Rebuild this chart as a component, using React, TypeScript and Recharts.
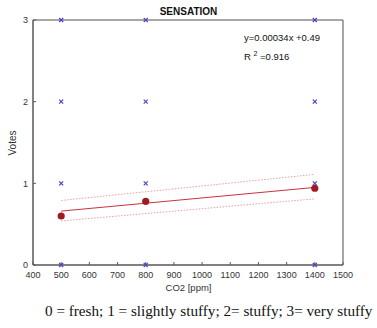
import React from 'react';
import {
  ComposedChart,
  Scatter,
  Line,
  XAxis,
  YAxis,
  CartesianGrid,
  ReferenceArea,
} from 'recharts';

// Data
const CO2_LEVELS = [500, 800, 1400];
const VOTE_LEVELS = [0, 1, 2, 3];
const MEAN_VOTES = [0.6, 0.78, 0.94];
const FIT_X = [500, 1400];
const FIT_Y = [0.66, 0.95];
const UPPER_Y = [0.79, 1.11];
const LOWER_Y = [0.54, 0.81];
const X_TICKS = [400, 500, 600, 700, 800, 900, 1000, 1100, 1200, 1300, 1400, 1500];
const Y_TICKS = [0, 1, 2, 3];

const votes = CO2_LEVELS.flatMap((x) => VOTE_LEVELS.map((y) => ({ x, y })));
const means = CO2_LEVELS.map((x, i) => ({ x, y: MEAN_VOTES[i] }));
const fit = FIT_X.map((x, i) => ({ x, y: FIT_Y[i] }));
const upper = FIT_X.map((x, i) => ({ x, y: UPPER_Y[i] }));
const lower = FIT_X.map((x, i) => ({ x, y: LOWER_Y[i] }));

const FONT = 'Liberation Sans, Arial, sans-serif';
const AXIS = '#5a5a5a';

const XMark = (props: any) => {
  const { cx, cy } = props;
  const s = 2;
  return (
    <g stroke="#4646c8" strokeWidth={1.2}>
      <line x1={cx - s} y1={cy - s} x2={cx + s} y2={cy + s} />
      <line x1={cx - s} y1={cy + s} x2={cx + s} y2={cy - s} />
    </g>
  );
};

const Dot = (props: any) => <circle cx={props.cx} cy={props.cy} r={3.6} fill="#9e1b24" />;

const tick = { fontSize: 9, fill: '#333', fontFamily: FONT };

export default function App() {
  return (
    <div style={{ position: 'absolute', left: 0, top: 0, width: 377, height: 328, background: '#fff' }}>
      <ComposedChart
        width={377}
        height={300}
        margin={{ top: 20, right: 34, bottom: 5, left: 0 }}
      >
        <CartesianGrid stroke="#e6e6e6" vertical horizontal />
        <XAxis
          xAxisId="b"
          type="number"
          dataKey="x"
          domain={[400, 1500]}
          ticks={X_TICKS}
          height={30}
          stroke={AXIS}
          tick={tick}
          tickSize={-3}
          tickMargin={10}
          interval={0}
        />
        <XAxis
          xAxisId="t"
          orientation="top"
          type="number"
          dataKey="x"
          domain={[400, 1500]}
          ticks={X_TICKS}
          height={0}
          stroke={AXIS}
          tick={false}
          tickSize={-3}
        />
        <YAxis
          yAxisId="l"
          type="number"
          domain={[0, 3]}
          ticks={Y_TICKS}
          width={33}
          stroke={AXIS}
          tick={tick}
          tickSize={-3}
          tickMargin={8}
        />
        <YAxis
          yAxisId="r"
          orientation="right"
          type="number"
          domain={[0, 3]}
          ticks={Y_TICKS}
          width={0}
          stroke={AXIS}
          tick={false}
          tickSize={-3}
        />
        <ReferenceArea xAxisId="b" yAxisId="l" x1={400} x2={1500} y1={0} y2={3} fill="none" stroke={AXIS} strokeWidth={1} />
        <Line xAxisId="b" yAxisId="l" data={upper} dataKey="y" stroke="#eaa0a6" strokeWidth={1} strokeDasharray="1.5 1.5" dot={false} isAnimationActive={false} />
        <Line xAxisId="b" yAxisId="l" data={lower} dataKey="y" stroke="#eaa0a6" strokeWidth={1} strokeDasharray="1.5 1.5" dot={false} isAnimationActive={false} />
        <Line xAxisId="b" yAxisId="l" data={fit} dataKey="y" stroke="#c8333d" strokeWidth={1} dot={false} isAnimationActive={false} />
        <Scatter xAxisId="b" yAxisId="l" data={votes} dataKey="y" shape={<XMark />} isAnimationActive={false} />
        <Scatter xAxisId="b" yAxisId="l" data={means} dataKey="y" shape={<Dot />} isAnimationActive={false} />
      </ComposedChart>

      <div style={{ position: 'absolute', left: 0, width: 377, top: 6, textAlign: 'center', fontFamily: FONT, fontWeight: 'bold', fontSize: 10, color: '#111' }}>
        SENSATION
      </div>
      <div style={{ position: 'absolute', left: 244, top: 30, fontFamily: FONT, fontSize: 9.5, color: '#111', lineHeight: '16px' }}>
        <div>y=0.00034x +0.49</div>
        <div>R <sup style={{ fontSize: 7, verticalAlign: 4 }}>2</sup> =0.916</div>
      </div>
      <div style={{ position: 'absolute', left: 12, top: 143, transform: 'translate(-50%, -50%) rotate(-90deg)', fontFamily: FONT, fontSize: 10, color: '#333' }}>
        Votes
      </div>
      <div style={{ position: 'absolute', left: 33, width: 311, top: 282, textAlign: 'center', fontFamily: FONT, fontSize: 9.5, color: '#333' }}>
        CO2 [ppm]
      </div>
      <div style={{ position: 'absolute', left: 45, top: 302, fontFamily: 'Liberation Serif, Times New Roman, serif', fontSize: 15.2, color: '#111', whiteSpace: 'nowrap' }}>
        0 = fresh; 1 = slightly stuffy; 2= stuffy; 3= very stuffy
      </div>
    </div>
  );
}
